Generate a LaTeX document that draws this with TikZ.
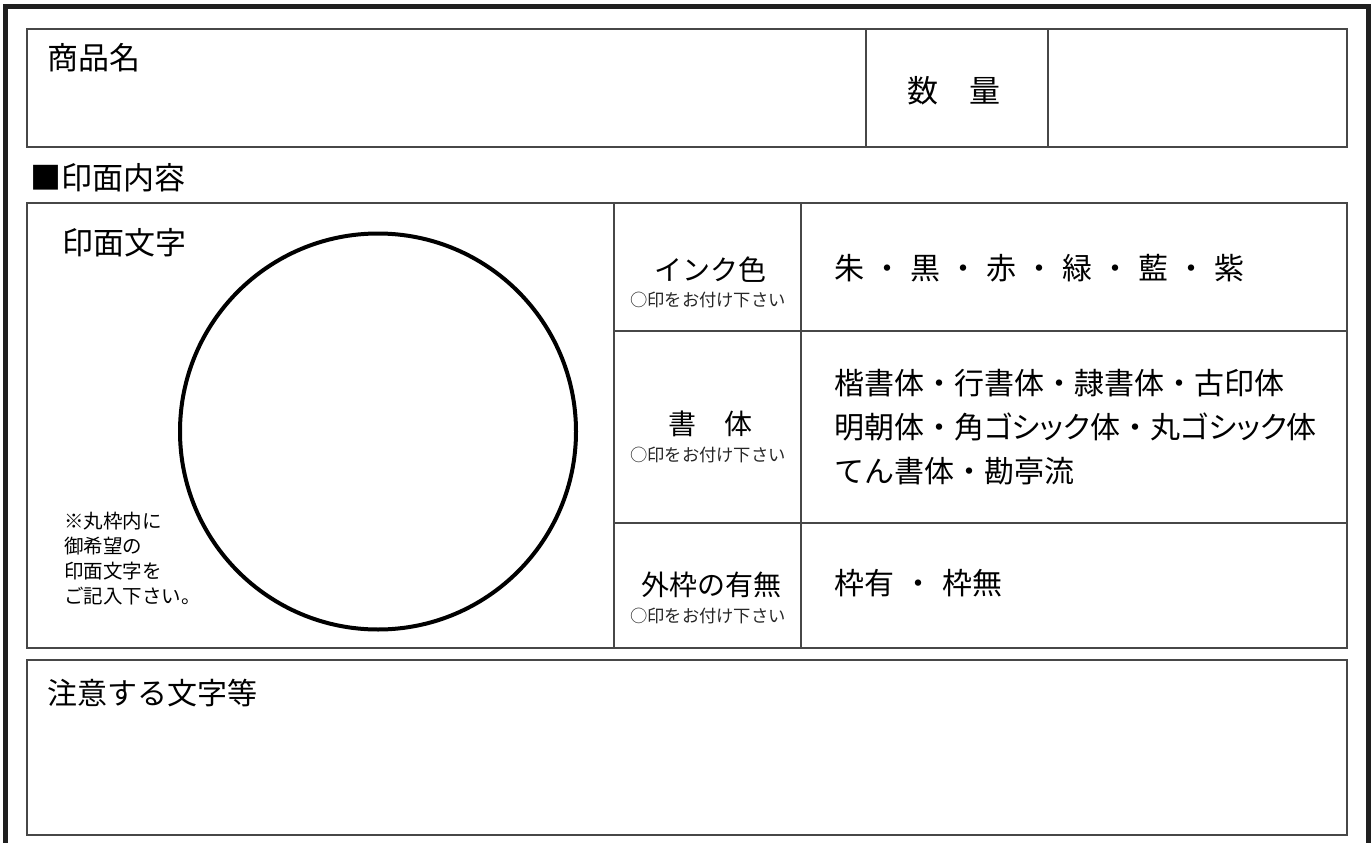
\documentclass[tikz,border=0pt]{standalone}
\usepackage{fontspec}
\setmainfont{Noto Sans CJK JP}
\newcommand{\propkana}[1]{{\addfontfeatures{RawFeature=+palt}#1}}
\begin{document}
\begin{tikzpicture}[x=1pt,y=-1pt,
  frame/.style={line width=5pt,draw=black!88},
  cell/.style={line width=1.7pt,draw=black!72},
  big/.style={font=\fontsize{30}{36}\selectfont,inner sep=0pt},
  head/.style={font=\fontsize{31}{36}\selectfont,inner sep=0pt},
  lab/.style={font=\fontsize{28}{32}\selectfont,inner sep=0pt},
  note/.style={font=\fontsize{17.3}{20}\selectfont,inner sep=0pt,text=black!85},
  memo/.style={font=\fontsize{19.5}{25}\selectfont,inner sep=0pt,align=left}]
\useasboundingbox (0,0) rectangle (1371,843);
% outer frame (open at the bottom)
\coordinate (fbl) at (5.8,850);
\coordinate (ftl) at (5.8,6.5);
\coordinate (ftr) at (1368.5,6.5);
\coordinate (fbr) at (1368.5,850);
\draw[frame] (fbl) -- (ftl) -- (ftr) -- (fbr);
% top table
\draw[cell] (27,29) rectangle (1347,147);
\draw[cell] (866,29) -- (866,147);
\draw[cell] (1048,29) -- (1048,147);
\node[head,anchor=west] (shohin) at (47,58) {商品名};
\node[head] (suryo) at (954,91) {数\hspace{1em}量};
% section title
\node[head,anchor=west] (title) at (30,178) {■印面内容};
% main table
\draw[cell] (27,203) rectangle (1347,648);
\draw[cell] (614,203) -- (614,648);
\draw[cell] (801,203) -- (801,648);
\draw[cell] (614,331) -- (1347,331);
\draw[cell] (614,523) -- (1347,523);
\node[head,anchor=west] (inmen) at (62,243) {印面文字};
\node[draw,line width=4pt,circle,minimum size=396pt,inner sep=0pt] (circ) at (378,431.5) {};
\node[memo,anchor=north west] (memo) at (64,512) {※丸枠内に\\御希望の\\印面文字を\\ご記入下さい。};
% labels
\node[lab] (ink) at (710,270) {インク色};
\node[note] (inknote) at (708,300) {○印をお付け下さい};
\node[lab] (shotai) at (710,424) {書\hspace{1em}体};
\node[note] (shotainote) at (708,455) {○印をお付け下さい};
\node[lab] (waku) at (711,585) {外枠の有無};
\node[note] (wakunote) at (708,616) {○印をお付け下さい};
% options
\node[big,anchor=west] (colors) at (834,268) {朱\hspace{8pt}・\hspace{8pt}黒\hspace{8pt}・\hspace{8pt}赤\hspace{8pt}・\hspace{8pt}緑\hspace{8pt}・\hspace{8pt}藍\hspace{8pt}・\hspace{8pt}紫};
\node[big,anchor=west] (fontsA) at (834,383) {楷書体・行書体・隷書体・古印体};
\node[big,anchor=west] (fontsB) at (834,427) {明朝体・角\propkana{ゴシック}体・丸\propkana{ゴシック}体};
\node[big,anchor=west] (fontsC) at (834,471) {てん書体・勘亭流};
\node[big,anchor=west] (frames) at (834,583) {枠有\hspace{9pt}・\hspace{9pt}枠無};
% notes box
\draw[cell] (27,660) rectangle (1347,835);
\node[big,anchor=west] (chui) at (47,693) {注意する文字等};
\end{tikzpicture}
\end{document}
